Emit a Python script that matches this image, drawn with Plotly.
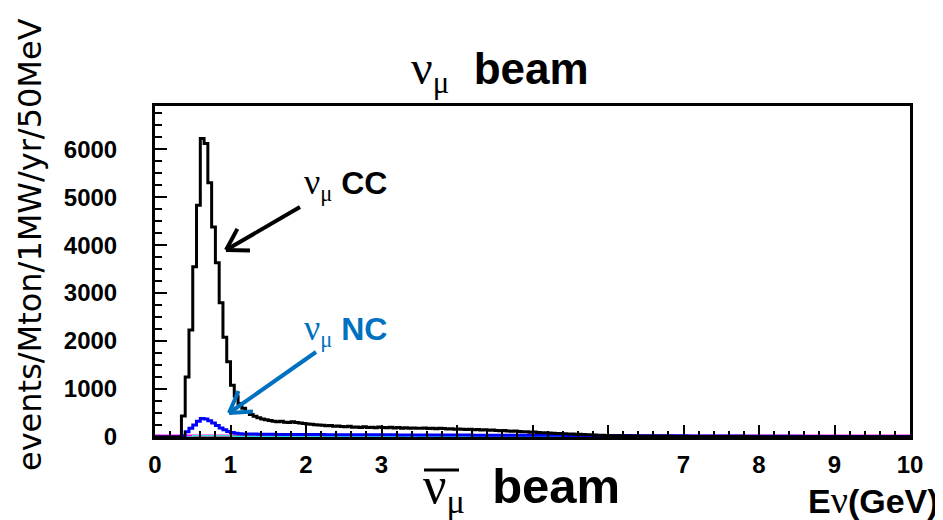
import math
import plotly.graph_objects as go

# neutrino energy spectra, 50 MeV bins starting at 0 GeV
BIN = 0.05

numu_cc = [
    0, 0, 0, 0, 0, 0, 0, 440, 1250, 2230,
    3550, 4830, 6220, 6120, 5300, 4380, 3630, 2800, 2080, 1570,
    1080, 850, 700, 600, 530, 470, 430, 400, 375, 360,
    345, 330, 320, 330, 310, 300, 320, 300, 290, 280,
    270, 265, 255, 250, 245, 235, 240, 225, 230, 220,
    215, 225, 205, 210, 200, 215, 200, 205, 195, 210,
    200, 195, 205, 190, 200, 185, 195, 180, 190, 185,
    180, 190, 175, 185, 170, 180, 175, 165, 170, 160,
    165, 160, 155, 160, 150, 155, 145, 150, 140, 145,
    135, 130, 135, 125, 120, 125, 115, 110, 110, 100,
    105, 95, 90, 90, 85, 80, 75, 75, 70, 65,
    60, 55, 55, 50, 45, 45, 40, 35, 35, 30,
    28, 26, 25, 24, 22, 22, 20, 20, 18, 18,
    17, 16, 16, 15, 15, 14, 14, 13, 13, 12,
    12, 12, 11, 11, 10, 10, 10, 10, 9, 9,
    9, 9, 8, 8, 8, 8, 8, 7, 7, 7,
    7, 7, 6, 6, 6, 6, 6, 6, 5, 5,
    5, 5, 5, 5, 5, 5, 4, 4, 4, 4,
    4, 4, 4, 4, 4, 3, 3, 3, 3, 3,
    3, 3, 3, 3, 3, 3, 3, 3, 3, 3,
]

numu_nc = [
    0, 0, 0, 0, 0, 0, 0, 25, 110, 180,
    250, 330, 385, 375, 340, 290, 240, 190, 150, 115,
    95, 80, 70, 65, 62, 60, 60, 58, 57, 56,
    55, 55, 54, 54, 53, 53, 52, 52, 52, 51,
    51, 50, 50, 50, 50, 49, 49, 49, 48, 48,
    48, 48, 47, 47, 47, 47, 46, 46, 46, 46,
    45, 45, 45, 45, 44, 44, 44, 44, 43, 43,
    43, 43, 42, 42, 42, 42, 41, 41, 41, 41,
    40, 40, 40, 40, 39, 39, 39, 39, 38, 38,
    38, 38, 37, 37, 37, 37, 36, 36, 36, 36,
    35, 35, 35, 35, 34, 34, 34, 34, 33, 33,
    33, 33, 32, 32, 32, 32, 31, 31, 31, 31,
    30, 30, 30, 29, 29, 29, 28, 28, 28, 27,
    27, 27, 26, 26, 26, 25, 25, 25, 24, 24,
    24, 23, 23, 23, 22, 22, 22, 21, 21, 21,
    20, 20, 20, 19, 19, 19, 18, 18, 18, 17,
    17, 17, 16, 16, 16, 15, 15, 15, 14, 14,
    14, 13, 13, 13, 12, 12, 12, 11, 11, 11,
    10, 10, 10, 10, 10, 10, 10, 10, 10, 10,
    10, 10, 10, 10, 10, 10, 10, 10, 10, 10,
]

# small components, 0.5 GeV bins
COARSE = 0.5
nue_cc = [0, 20, 25, 25, 25, 22, 20, 18, 15, 12, 10, 8, 6, 5, 4, 3, 3, 2, 2, 2]
numubar = [0, 25, 15, 12, 10, 8, 7, 6, 5, 5, 4, 4, 3, 3, 3, 2, 2, 2, 2, 2]
beam_bg = [22, 22, 22, 22, 22, 22, 22, 22, 22, 22, 22, 22, 22, 22, 22, 22, 22, 22, 22, 22]

x_ticks = [0, 1, 2, 3, 4, 5, 6, 7, 8, 9, 10]
x_text = ["0", "1", "2", "3", "", "", "", "7", "8", "9", "10"]
y_ticks = [0, 1000, 2000, 3000, 4000, 5000, 6000]

# plot box in screen pixels; page body adds an 8px offset
OFF = 8
SW, SH = 943, 520
L, R, T, B = 155, 910, 106, 437
W, H = SW - OFF, SH - OFF


def paper(xp, yp):
    return (xp - L) / (R - L), (B - yp) / (B - T)


def hist(vals, width, color, lw):
    xs = [i * width for i in range(len(vals) + 1)]
    ys = list(vals) + [vals[-1]]
    return go.Scatter(x=xs, y=ys, mode="lines", line=dict(color=color, width=lw, shape="hv"),
                      hoverinfo="skip", showlegend=False)


fig = go.Figure()
fig.add_trace(hist(beam_bg, COARSE, "#ff00ff", 3))
fig.add_trace(hist(nue_cc, COARSE, "#ff2020", 1.5))
fig.add_trace(hist(numubar, COARSE, "#30e0e0", 1.5))
fig.add_trace(hist(numu_nc, BIN, "#0000ff", 3))
fig.add_trace(hist(numu_cc, BIN, "#000000", 3))

tick_font = dict(family="Liberation Sans", size=24, color="black", weight="bold")
fig.update_xaxes(range=[0, 10], tickvals=x_ticks, ticktext=x_text, ticks="inside", ticklen=12,
                 tickwidth=2, tickcolor="black", showline=True, linewidth=3, linecolor="black",
                 mirror=True, showgrid=False, zeroline=False, tickfont=tick_font,
                 ticklabelstandoff=4, automargin=False,
                 minor=dict(ticks="inside", dtick=0.2, ticklen=6, tickwidth=2, tickcolor="black"))
fig.update_yaxes(range=[0, 6900], tickvals=y_ticks, ticks="inside", ticklen=12, tickwidth=2,
                 tickcolor="black", showline=True, linewidth=3, linecolor="black", mirror=True,
                 showgrid=False, zeroline=False, tickfont=tick_font, ticklabelstandoff=30,
                 automargin=False,
                 minor=dict(ticks="inside", dtick=250, ticklen=7, tickwidth=2, tickcolor="black"))

SERIF = "font-family:Liberation Serif;font-weight:normal"
ann = []


def text(xp, yp, s, size, color="black", xanchor="left", angle=0, family="Liberation Sans"):
    x, y = paper(xp, yp)
    ann.append(dict(x=x, y=y, xref="paper", yref="paper", text=s, showarrow=False,
                    xanchor=xanchor, yanchor="middle", textangle=angle,
                    font=dict(family=family, size=size, color=color)))


def seg(x0, y0, x1, y1, color, lw):
    a, b = paper(x0, y0)
    c, d = paper(x1, y1)
    fig.add_shape(type="line", xref="paper", yref="paper", x0=a, y0=b, x1=c, y1=d,
                  line=dict(color=color, width=lw))


def arrow(x0, y0, x1, y1, color):
    # shaft plus open chevron head, in pixel space
    seg(x0, y0, x1, y1, color, 4)
    ang = math.atan2(y0 - y1, x0 - x1)
    for d in (0.55, -0.55):
        seg(x1, y1, x1 + 24 * math.cos(ang + d), y1 + 24 * math.sin(ang + d), color, 4)


def nu(size):
    return (f'<span style="{SERIF};font-size:{size}px">ν</span>'
            f'<sub><span style="{SERIF}">μ</span></sub>')


text(409, 70, nu(48) + '&nbsp; <b>beam</b>', 44)
text(302, 184, nu(36) + ' <b>CC</b>', 32)
text(302, 330, nu(36) + ' <b>NC</b>', 32, color="#0070c0")
text(421, 488, nu(52) + '&nbsp; <b>beam</b>', 49)
text(941, 500, f'<b>E</b><span style="{SERIF};font-size:38px">ν</span><b>(GeV)</b>', 34,
     xanchor="right")
text(30, 245, "events/Mton/1MW/yr/50MeV", 32, xanchor="center", angle=-90, family="DejaVu Sans")

arrow(300, 207, 226, 250, "black")
arrow(316, 352, 229, 413, "#0070c0")

# bar over the antineutrino symbol
seg(424, 470, 459, 470, "black", 3)

fig.update_layout(width=W, height=H,
                  margin=dict(l=L - OFF, r=W - (R - OFF), t=T - OFF, b=H - (B - OFF)),
                  plot_bgcolor="white", paper_bgcolor="white", annotations=ann, showlegend=False)

fig.write_html("out.html")
